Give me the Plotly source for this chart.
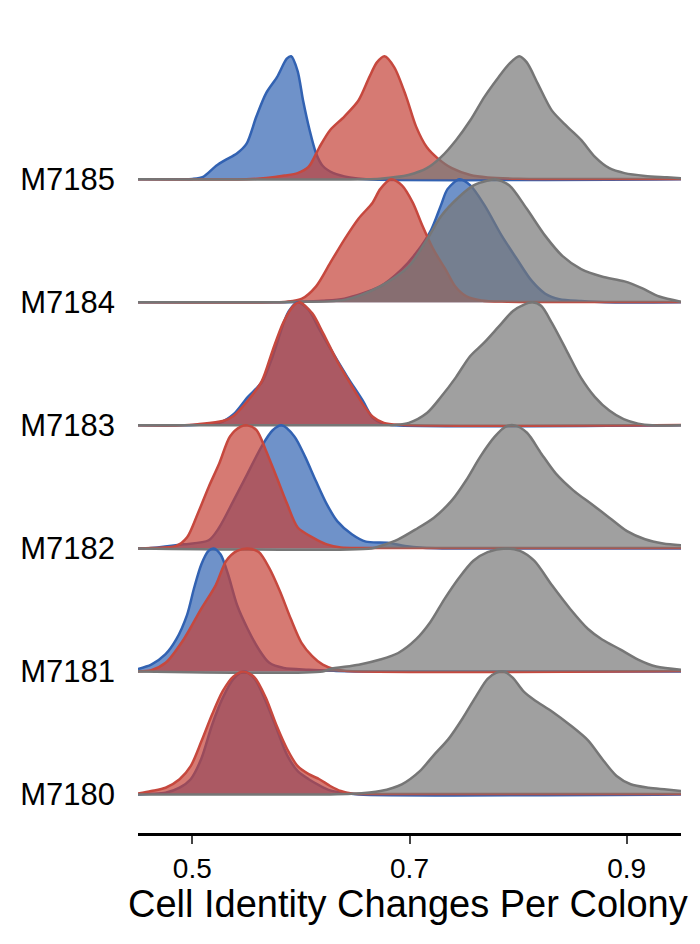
import plotly.graph_objects as go

# ---------------- data ----------------
categories = ["M7180", "M7181", "M7182", "M7183", "M7184", "M7185"]
tick_vals = [0.5, 0.7, 0.9]
tick_text = ["0.5", "0.7", "0.9"]
x_title = "Cell Identity Changes Per Colony"

# M7185
m7185_blue_x = [0.45, 0.49, 0.50, 0.51, 0.522, 0.531, 0.541, 0.55, 0.559, 0.568, 0.578, 0.587, 0.591, 0.597, 0.602, 0.608, 0.614, 0.62, 0.63, 0.645, 0.66, 0.95]
m7185_blue_h = [0, 0, 0.003, 0.02, 0.11, 0.16, 0.21, 0.29, 0.51, 0.70, 0.83, 0.98, 1.0, 0.88, 0.64, 0.40, 0.21, 0.11, 0.05, 0.015, 0, 0]
m7185_red_x = [0.45, 0.55, 0.568, 0.585, 0.597, 0.607, 0.617, 0.627, 0.64, 0.653, 0.663, 0.67, 0.677, 0.686, 0.697, 0.706, 0.716, 0.726, 0.739, 0.756, 0.772, 0.80, 0.95]
m7185_red_h = [0, 0, 0.01, 0.03, 0.05, 0.10, 0.26, 0.40, 0.51, 0.64, 0.83, 0.95, 1.0, 0.91, 0.67, 0.43, 0.26, 0.17, 0.09, 0.035, 0.015, 0.005, 0.003]
m7185_gray_x = [0.45, 0.66, 0.673, 0.699, 0.716, 0.729, 0.743, 0.756, 0.769, 0.782, 0.792, 0.801, 0.808, 0.818, 0.831, 0.845, 0.858, 0.871, 0.884, 0.898, 0.917, 0.937, 0.95]
m7185_gray_h = [0, 0, 0.005, 0.035, 0.09, 0.18, 0.32, 0.48, 0.67, 0.83, 0.94, 1.0, 0.95, 0.78, 0.56, 0.43, 0.32, 0.18, 0.09, 0.05, 0.027, 0.016, 0.008]

# M7184
m7184_blue_x = [0.45, 0.58, 0.594, 0.62, 0.640, 0.673, 0.693, 0.706, 0.720, 0.729, 0.735, 0.746, 0.756, 0.769, 0.785, 0.799, 0.812, 0.825, 0.838, 0.858, 0.88, 0.95]
m7184_blue_h = [0, 0, 0.003, 0.012, 0.03, 0.13, 0.27, 0.40, 0.59, 0.79, 0.92, 1.0, 0.95, 0.79, 0.54, 0.35, 0.18, 0.07, 0.025, 0.01, 0, 0]
m7184_red_x = [0.45, 0.575, 0.587, 0.601, 0.614, 0.627, 0.640, 0.653, 0.666, 0.673, 0.683, 0.693, 0.703, 0.712, 0.722, 0.733, 0.742, 0.752, 0.766, 0.79, 0.95]
m7184_red_h = [0, 0, 0.005, 0.03, 0.13, 0.32, 0.51, 0.68, 0.81, 0.92, 1.0, 0.95, 0.81, 0.62, 0.43, 0.27, 0.13, 0.05, 0.015, 0.005, 0.003]
m7184_gray_x = [0.45, 0.575, 0.59, 0.64, 0.673, 0.699, 0.716, 0.729, 0.746, 0.759, 0.772, 0.779, 0.792, 0.808, 0.825, 0.841, 0.858, 0.877, 0.898, 0.914, 0.930, 0.95]
m7184_gray_h = [0, 0, 0.003, 0.02, 0.13, 0.29, 0.51, 0.70, 0.86, 0.95, 0.99, 1.0, 0.95, 0.76, 0.54, 0.375, 0.27, 0.21, 0.17, 0.115, 0.047, 0.005]

# M7183
m7183_blue_x = [0.45, 0.49, 0.502, 0.525, 0.538, 0.551, 0.564, 0.574, 0.584, 0.589, 0.597, 0.607, 0.617, 0.630, 0.643, 0.657, 0.666, 0.676, 0.686, 0.95]
m7183_blue_h = [0, 0, 0.003, 0.02, 0.09, 0.23, 0.35, 0.56, 0.83, 0.93, 1.0, 0.94, 0.78, 0.58, 0.39, 0.20, 0.063, 0.014, 0, 0]
m7183_red_x = [0.45, 0.49, 0.505, 0.528, 0.538, 0.551, 0.564, 0.574, 0.584, 0.594, 0.599, 0.6105, 0.6204, 0.6336, 0.6469, 0.6565, 0.6662, 0.6764, 0.69, 0.95]
m7183_red_h = [0, 0, 0.01, 0.035, 0.077, 0.20, 0.36, 0.61, 0.84, 0.98, 1.0, 0.91, 0.75, 0.52, 0.32, 0.18, 0.07, 0.02, 0.005, 0.003]
m7183_gray_x = [0.45, 0.68, 0.6865, 0.6994, 0.716, 0.7289, 0.7427, 0.7556, 0.7685, 0.7819, 0.7953, 0.805, 0.8132, 0.8214, 0.8312, 0.8445, 0.8577, 0.8708, 0.884, 0.8972, 0.9105, 0.9234, 0.95]
m7183_gray_h = [0, 0, 0.003, 0.02, 0.10, 0.23, 0.39, 0.56, 0.67, 0.80, 0.93, 0.98, 1.0, 0.97, 0.83, 0.61, 0.39, 0.23, 0.12, 0.05, 0.014, 0, 0]

# M7182
m7182_blue_x = [0.45, 0.462, 0.492, 0.5151, 0.5248, 0.5381, 0.551, 0.5639, 0.574, 0.5823, 0.594, 0.6036, 0.6137, 0.6238, 0.6336, 0.6469, 0.6598, 0.6798, 0.6957, 0.7123, 0.73, 0.95]
m7182_blue_h = [0, 0.003, 0.033, 0.066, 0.17, 0.39, 0.61, 0.83, 0.96, 1.0, 0.91, 0.75, 0.55, 0.36, 0.22, 0.115, 0.055, 0.047, 0.02, 0.005, 0, 0]
m7182_red_x = [0.45, 0.462, 0.4852, 0.4952, 0.5049, 0.5151, 0.5248, 0.5347, 0.5446, 0.551, 0.5593, 0.5676, 0.5776, 0.5874, 0.5971, 0.6106, 0.6238, 0.6367, 0.66, 0.95]
m7182_red_h = [0, 0.003, 0.02, 0.09, 0.28, 0.50, 0.69, 0.91, 0.99, 1.0, 0.96, 0.80, 0.58, 0.36, 0.17, 0.09, 0.033, 0.008, 0.004, 0.003]
m7182_gray_x = [0.45, 0.665, 0.6731, 0.6896, 0.7059, 0.7225, 0.739, 0.7519, 0.7655, 0.7787, 0.7885, 0.7967, 0.8082, 0.8214, 0.8346, 0.8511, 0.8676, 0.884, 0.9003, 0.9169, 0.9335, 0.95]
m7182_gray_h = [0, 0, 0.02, 0.074, 0.156, 0.25, 0.39, 0.55, 0.75, 0.91, 0.99, 1.0, 0.94, 0.77, 0.61, 0.47, 0.36, 0.25, 0.14, 0.074, 0.04, 0.025]

# M7181
m7181_blue_x = [0.45, 0.4622, 0.4754, 0.4852, 0.4952, 0.5017, 0.5083, 0.5149, 0.5197, 0.5261, 0.5329, 0.5412, 0.551, 0.5612, 0.5709, 0.5842, 0.6072, 0.6303, 0.65, 0.95]
m7181_blue_h = [0.02, 0.055, 0.14, 0.26, 0.46, 0.68, 0.87, 0.98, 1.0, 0.95, 0.79, 0.54, 0.345, 0.18, 0.07, 0.028, 0.014, 0.005, 0, 0]
m7181_red_x = [0.45, 0.4622, 0.4754, 0.492, 0.5083, 0.5215, 0.5313, 0.5412, 0.551, 0.5612, 0.5709, 0.5808, 0.5906, 0.6004, 0.6104, 0.6201, 0.6303, 0.6401, 0.95]
m7181_red_h = [0, 0.01, 0.07, 0.26, 0.51, 0.70, 0.90, 0.98, 1.0, 0.97, 0.84, 0.65, 0.43, 0.235, 0.125, 0.055, 0.02, 0.005, 0.003]
m7181_gray_x = [0.45, 0.62, 0.6266, 0.6533, 0.6731, 0.6896, 0.7059, 0.7191, 0.7323, 0.7455, 0.7588, 0.7719, 0.7884, 0.8017, 0.8148, 0.8312, 0.8478, 0.8644, 0.8773, 0.8939, 0.9105, 0.9271, 0.95]
m7181_gray_h = [0, 0, 0.02, 0.055, 0.097, 0.15, 0.26, 0.40, 0.59, 0.76, 0.90, 0.97, 1.0, 0.98, 0.90, 0.70, 0.51, 0.345, 0.26, 0.18, 0.097, 0.04, 0.014]

# M7180
m7180_blue_x = [0.45, 0.4622, 0.4754, 0.4883, 0.4985, 0.5083, 0.5182, 0.528, 0.5379, 0.5478, 0.5575, 0.5675, 0.5774, 0.5873, 0.5971, 0.6072, 0.617, 0.627, 0.6401, 0.6533, 0.95]
m7180_blue_h = [0, 0.005, 0.014, 0.055, 0.124, 0.29, 0.565, 0.785, 0.94, 1.0, 0.94, 0.76, 0.54, 0.32, 0.19, 0.124, 0.074, 0.033, 0.014, 0, 0]
m7180_red_x = [0.45, 0.4622, 0.4754, 0.4883, 0.4985, 0.5083, 0.5182, 0.528, 0.5379, 0.5478, 0.5575, 0.5675, 0.5774, 0.5873, 0.5971, 0.6072, 0.617, 0.627, 0.6367, 0.6469, 0.66, 0.95]
m7180_red_h = [0.008, 0.028, 0.055, 0.124, 0.23, 0.43, 0.65, 0.84, 0.96, 1.0, 0.95, 0.79, 0.565, 0.37, 0.23, 0.165, 0.124, 0.069, 0.028, 0.008, 0.004, 0.003]
m7180_gray_x = [0.45, 0.627, 0.6469, 0.6731, 0.6929, 0.7095, 0.7224, 0.7358, 0.749, 0.7621, 0.7719, 0.7801, 0.7868, 0.795, 0.8048, 0.8146, 0.8312, 0.8478, 0.8644, 0.8773, 0.8907, 0.9037, 0.9202, 0.9367, 0.95]
m7180_gray_h = [0, 0, 0.005, 0.028, 0.083, 0.19, 0.32, 0.45, 0.62, 0.81, 0.94, 0.99, 1.0, 0.95, 0.84, 0.77, 0.675, 0.565, 0.44, 0.29, 0.15, 0.083, 0.055, 0.041, 0.028]

# ---------------- styles ----------------
LINE = {"blue": "rgb(50,98,178)", "red": "rgb(198,72,62)", "gray": "rgb(118,118,118)"}
FILL = {"blue": "rgba(50,100,178,0.7)", "red": "rgba(196,66,56,0.7)", "gray": "rgba(120,120,120,0.7)"}
FONT = "Liberation Sans, Arial, Helvetica, sans-serif"

rows = [
    (5, [(m7185_blue_x, m7185_blue_h, "blue"), (m7185_red_x, m7185_red_h, "red"), (m7185_gray_x, m7185_gray_h, "gray")]),
    (4, [(m7184_blue_x, m7184_blue_h, "blue"), (m7184_red_x, m7184_red_h, "red"), (m7184_gray_x, m7184_gray_h, "gray")]),
    (3, [(m7183_blue_x, m7183_blue_h, "blue"), (m7183_red_x, m7183_red_h, "red"), (m7183_gray_x, m7183_gray_h, "gray")]),
    (2, [(m7182_blue_x, m7182_blue_h, "blue"), (m7182_red_x, m7182_red_h, "red"), (m7182_gray_x, m7182_gray_h, "gray")]),
    (1, [(m7181_blue_x, m7181_blue_h, "blue"), (m7181_red_x, m7181_red_h, "red"), (m7181_gray_x, m7181_gray_h, "gray")]),
    (0, [(m7180_blue_x, m7180_blue_h, "blue"), (m7180_red_x, m7180_red_h, "red"), (m7180_gray_x, m7180_gray_h, "gray")]),
]

fig = go.Figure()
for off, curves in rows:
    for xs, hs, c in curves:
        fig.add_trace(go.Scatter(x=[xs[0], xs[-1]], y=[off, off], mode="lines",
                                 line=dict(width=0), hoverinfo="skip", showlegend=False))
        fig.add_trace(go.Scatter(x=xs, y=[off + h for h in hs], mode="lines",
                                 line=dict(color=LINE[c], width=2.5, shape="spline", smoothing=0.8),
                                 fill="tonexty", fillcolor=FILL[c], showlegend=False))

fig.update_layout(
    width=700, height=944,
    margin=dict(l=138, r=19, t=40, b=111, pad=0),
    plot_bgcolor="white", paper_bgcolor="white",
    font=dict(family=FONT, color="black"),
    xaxis=dict(range=[0.45, 0.95], tickvals=tick_vals, ticktext=tick_text,
               showline=True, linecolor="black", linewidth=3,
               ticks="outside", ticklen=8, tickwidth=1.5, tickcolor="#444",
               tickfont=dict(size=28, family=FONT, color="black"),
               showgrid=False, zeroline=False),
    yaxis=dict(range=[-0.313, 6.132], tickvals=list(range(len(categories))), ticktext=categories,
               showgrid=False, zeroline=False, showline=False, ticks="",
               tickfont=dict(size=31, family=FONT, color="black"), ticklabelstandoff=22),
    annotations=[dict(text=x_title, x=0.699, xref="x", y=-0.089, yref="paper",
                      xanchor="center", yanchor="middle", showarrow=False,
                      font=dict(size=38, family=FONT, color="black"))],
)

fig.write_html("out.html")
